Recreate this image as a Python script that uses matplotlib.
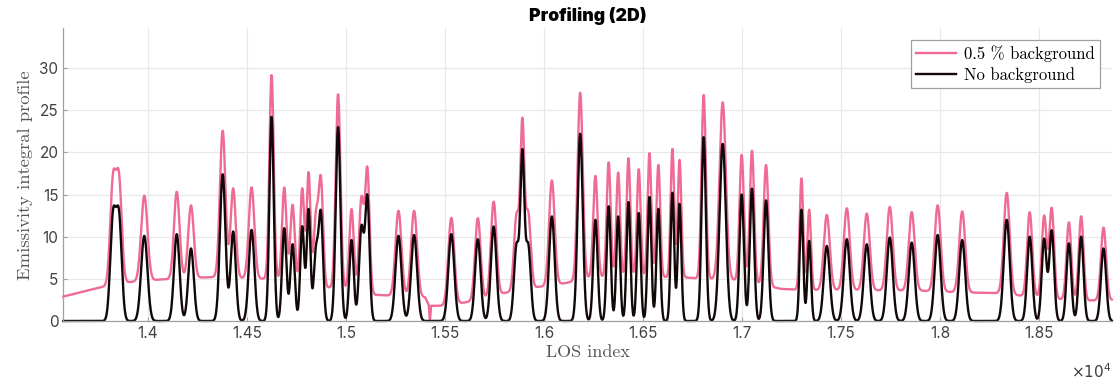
import numpy as np
import matplotlib.pyplot as plt
from matplotlib.ticker import FuncFormatter

# peak centres (LOS index), heights without background and peak widths (sigma)
peak_pos = [13823, 13853, 13981, 14145, 14217, 14377, 14430, 14523, 14624, 14688,
            14730, 14779, 14811, 14848, 14873, 14960, 15028, 15078, 15108, 15265,
            15344, 15532, 15666, 15746, 15862, 15891, 15920, 16040, 16183, 16260,
            16327, 16375, 16427, 16479, 16533, 16578, 16649, 16685, 16807, 16903,
            16999, 17051, 17122, 17301, 17340, 17429, 17530, 17631, 17747, 17858,
            17989, 18113, 18338, 18454, 18527, 18565, 18652, 18714, 18827]
peak_height = [12.0, 12.0, 10.1, 10.3, 8.6, 17.4, 10.6, 10.8, 24.2, 11.0,
               9.1, 11.2, 13.2, 8.0, 12.5, 23.0, 9.6, 11.0, 14.5, 10.1,
               10.2, 10.3, 9.7, 11.2, 9.0, 18.9, 9.0, 12.4, 22.2, 12.0,
               13.6, 12.4, 14.1, 12.8, 14.7, 13.3, 15.2, 13.9, 21.8, 21.0,
               15.0, 15.7, 14.3, 13.2, 9.5, 8.9, 9.7, 9.1, 9.9, 9.3,
               10.2, 9.6, 12.0, 10.0, 9.7, 10.7, 9.2, 10.0, 8.6]
peak_sigma = [14, 14, 16, 14, 14, 14, 13, 14, 11, 11,
              11, 10, 9.5, 11, 11, 12, 11, 12, 11, 15,
              15, 15, 14, 14, 13, 10, 13, 14, 13, 11,
              10, 9.5, 9.5, 9.5, 9.5, 9.5, 9, 9, 11, 16,
              11, 11, 12, 9, 9, 15, 15, 15, 15, 15,
              15, 15, 15, 13, 12, 12, 12, 12, 13]

# background level added by the 0.5 % case
bg_pos = [13572, 13780, 13800, 13900, 14050, 14200, 14330, 14600, 14700, 14900,
          15000, 15150, 15400, 15418, 15424, 15430, 15500, 15625, 15710, 15795,
          15960, 16110, 16250, 16700, 16800, 16950, 17100, 17200, 17300, 17900,
          18100, 18300, 18450, 18700, 18870]
bg_level = [2.9, 4.1, 4.3, 4.6, 4.9, 5.1, 5.2, 5.0, 4.8, 4.0,
            3.8, 3.1, 2.8, 1.9, 0.0, 1.8, 1.8, 2.3, 2.7, 3.3,
            4.0, 4.5, 5.2, 5.2, 5.0, 4.9, 4.3, 3.8, 3.7, 3.6,
            3.4, 3.3, 2.9, 2.4, 2.5]

x_ticks = [14000, 14500, 15000, 15500, 16000, 16500, 17000, 17500, 18000, 18500]
y_ticks = [0, 5, 10, 15, 20, 25, 30]

los = np.arange(13572, 18870, 1.0)
no_bg = np.zeros_like(los)
for c, h, s in zip(peak_pos, peak_height, peak_sigma):
    no_bg += h * np.exp(-0.5 * ((los - c) / s) ** 2)
with_bg = no_bg + np.interp(los, bg_pos, bg_level)

fig = plt.figure(figsize=(11.19, 3.81), dpi=100)
ax = fig.add_axes([0.0566, 0.1575, 0.937, 0.768])

ax.plot(los, with_bg, color='#ef6b94', lw=1.7, label='0.5 % background', clip_on=False)
ax.plot(los, no_bg, color='#120808', lw=1.7, label='No background', clip_on=False)

ax.set_xlim(13572, 18869)
ax.set_ylim(0, 34.7)
ax.set_xticks(x_ticks)
ax.set_yticks(y_ticks)
ax.xaxis.set_major_formatter(FuncFormatter(lambda v, p: f'{v / 1e4:g}'))
ax.grid(True, color='#e8e8e8', lw=0.9)
ax.set_axisbelow(True)

for side in ['top', 'right']:
    ax.spines[side].set_visible(False)
for side in ['left', 'bottom']:
    ax.spines[side].set_color('#a0a0a0')
    ax.spines[side].set_linewidth(0.9)

ax.tick_params(axis='both', direction='in', length=3, color='#a0a0a0',
               labelsize=11, labelcolor='#404040')
for lab in ax.get_xticklabels() + ax.get_yticklabels():
    lab.set_fontfamily('Inter')

ax.set_title('Profiling (2D)', fontsize=12.7, fontweight='black', family='Inter', pad=5)
ax.set_ylabel('Emissivity integral profile', fontsize=13.4, family='cmr10', color='#555555',
              labelpad=5)
ax.set_xlabel('LOS index', fontsize=13, family='cmr10', color='#555555', labelpad=3)
ax.text(1.0, -0.14, r'$\times10^{4}$', transform=ax.transAxes, ha='right', va='top',
        fontsize=11, color='#404040')

leg = ax.legend(loc='upper right', fancybox=False, framealpha=1, edgecolor='#a0a0a0',
                prop={'family': 'cmr10', 'size': 12}, handlelength=2.4,
                borderaxespad=0.7, borderpad=0.3, labelspacing=0.3, handletextpad=0.5)
leg.get_frame().set_linewidth(0.9)

fig.savefig('out.png', dpi=100)
